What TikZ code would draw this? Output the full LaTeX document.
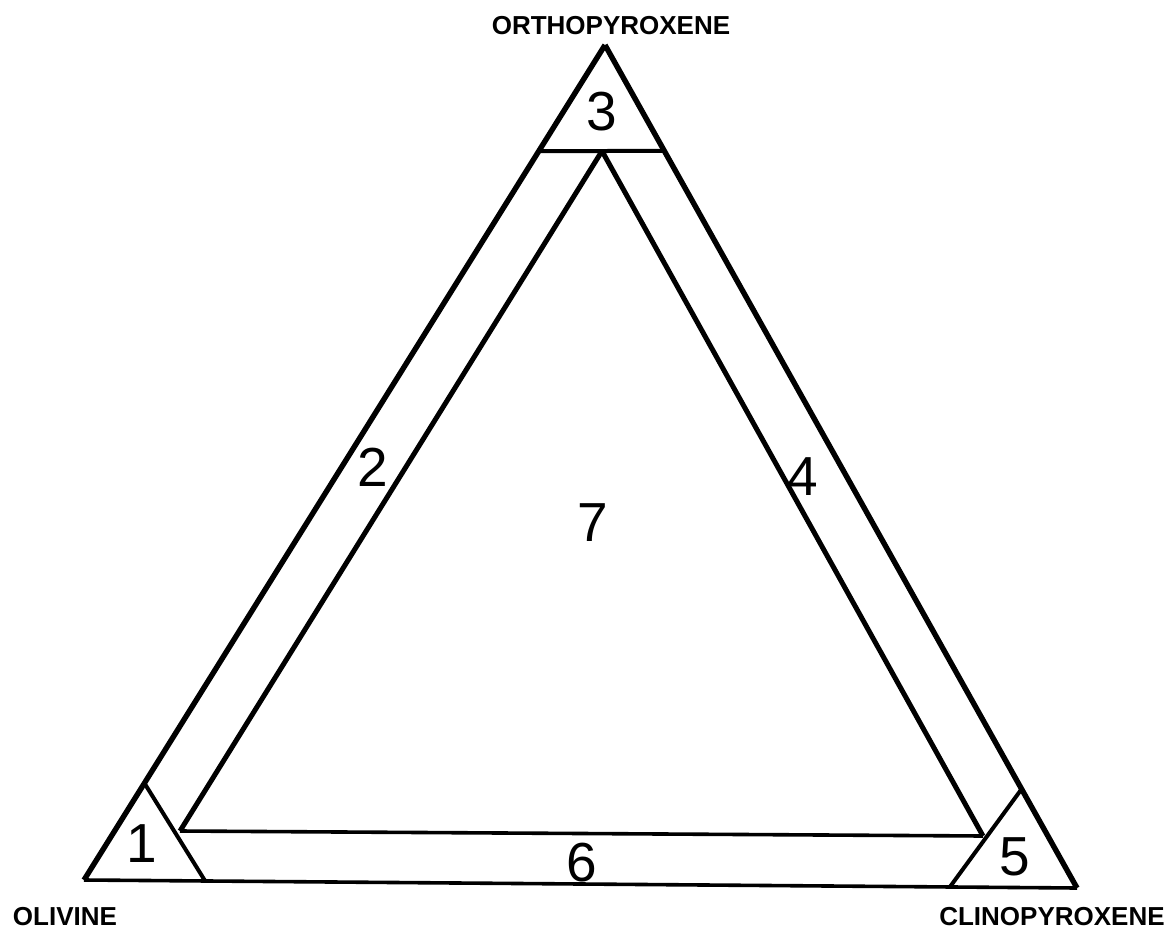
\documentclass[tikz,border=0pt]{standalone}
\usepackage{fontspec}
\setmainfont{Liberation Sans}
\usetikzlibrary{calc}
\begin{document}
\begin{tikzpicture}[x=1pt,y=-1pt,
  outerline/.style={line width=5.4pt, line join=miter},
  innerline/.style={line width=5pt, line join=miter},
  cutline/.style={line width=4pt},
  baseline/.style={line width=3.6pt},
  digit/.style={font=\fontsize{55}{55}\selectfont, inner sep=0pt},
  mineral/.style={font=\fontsize{26}{26}\selectfont\bfseries, inner sep=0pt}]
\useasboundingbox (0,0) rectangle (1169,933);
% outer triangle vertices
\coordinate (A) at (605,45);
\coordinate (B) at (84,880);
\coordinate (C) at (1077,888);
% inner triangle vertices
\coordinate (a) at (602,151);
\coordinate (b) at (180,831);
\coordinate (c) at (983,836);
% cut points on the outer triangle
\coordinate (t1) at ($(A)!0.127!(B)$);
\coordinate (t2) at ($(A)!0.1257!(C)$);
\coordinate (l1) at ($(A)!0.884!(B)$);
\coordinate (l2) at ($(B)!0.122!(C)$);
\coordinate (r1) at ($(A)!0.8826!(C)$);
\coordinate (r2) at ($(B)!0.872!(C)$);
% outer triangle
\draw[outerline] (A) -- (B);
\draw[outerline] (A) -- (C);
\draw[baseline] (B) -- (C);
% inner triangle
\draw[innerline] (a) -- (b);
\draw[innerline] (a) -- (c);
\draw[baseline] (b) -- (c);
% corner cuts
\draw[cutline] (t1) -- (t2);
\draw[cutline] (l1) -- (l2);
\draw[cutline] (r1) -- (r2);
% field numbers
\node[digit] (n1) at (142,844) {1};
\node[digit] (n2) at (373,467) {2};
\node[digit] (n3) at (602,112) {3};
\node[digit] (n4) at (803,477) {4};
\node[digit] (n5) at (1015,857) {5};
\node[digit] (n6) at (582,863) {6};
\node[digit] (n7) at (593,523) {7};
% mineral names
\node[mineral] (opx) at (611,26) {ORTHOPYROXENE};
\node[mineral] (ol) at (65,917) {OLIVINE};
\node[mineral] (cpx) at (1052,917) {CLINOPYROXENE};
\end{tikzpicture}
\end{document}
